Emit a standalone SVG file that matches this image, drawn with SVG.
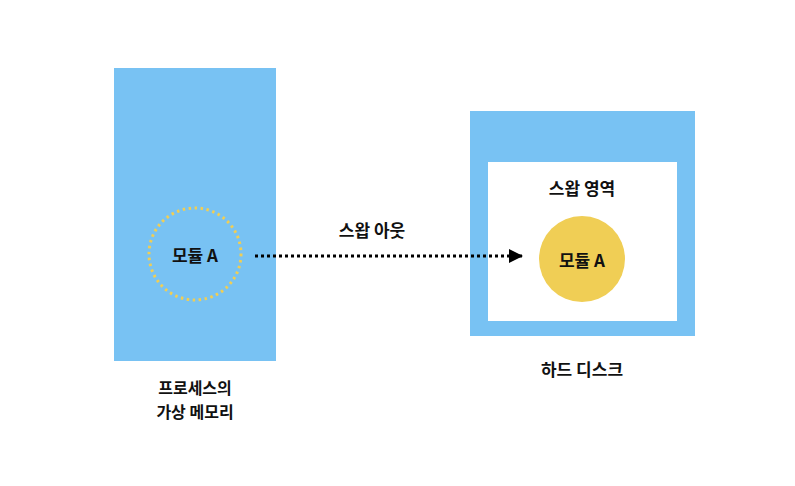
<svg xmlns="http://www.w3.org/2000/svg" width="795" height="486" viewBox="0 0 795 486">
<defs>
<style>
.t{font-family:"Noto Sans CJK KR","Noto Sans",sans-serif;font-size:17px;font-weight:bold;fill:#111;text-anchor:middle;dominant-baseline:central}
.s{font-size:16px}
.blue{fill:#78C2F3}
</style>
<marker id="ah2" viewBox="0 0 14 14" markerWidth="14" markerHeight="14" refX="14" refY="7" orient="auto" markerUnits="userSpaceOnUse">
<path d="M0,0 L14,7 L0,14 Z" fill="#000"/>
</marker>
</defs>
<rect width="795" height="486" fill="#fff"/>
<g id="virtual-memory">
<rect class="blue" x="114" y="68" width="162" height="293"/>
<text class="t s" x="195" y="387">프로세스의</text>
<text class="t s" x="195" y="411">가상 메모리</text>
</g>
<g id="module-a-old">
<circle cx="195" cy="254" r="46" fill="none" stroke="#F0CE55" stroke-width="3" stroke-dasharray="2.5 3.5"/>
<text class="t" x="195" y="254">모듈 A</text>
</g>
<g id="hard-disk">
<rect class="blue" x="470" y="111" width="225" height="225"/>
<text class="t" x="582" y="368">하드 디스크</text>
</g>
<g id="swap-area">
<rect x="488" y="162" width="189" height="159" fill="#fff"/>
<text class="t" x="582" y="187">스왑 영역</text>
</g>
<g id="module-a-new">
<circle cx="582" cy="259" r="43" fill="#F0CE55"/>
<text class="t" x="582" y="259">모듈 A</text>
</g>
<g id="connectors">
<line x1="255" y1="256" x2="523" y2="256" stroke="#000" stroke-width="3" stroke-dasharray="3 3" marker-end="url(#ah2)"/>
<text class="t" x="372" y="229">스왑 아웃</text>
</g>
</svg>
